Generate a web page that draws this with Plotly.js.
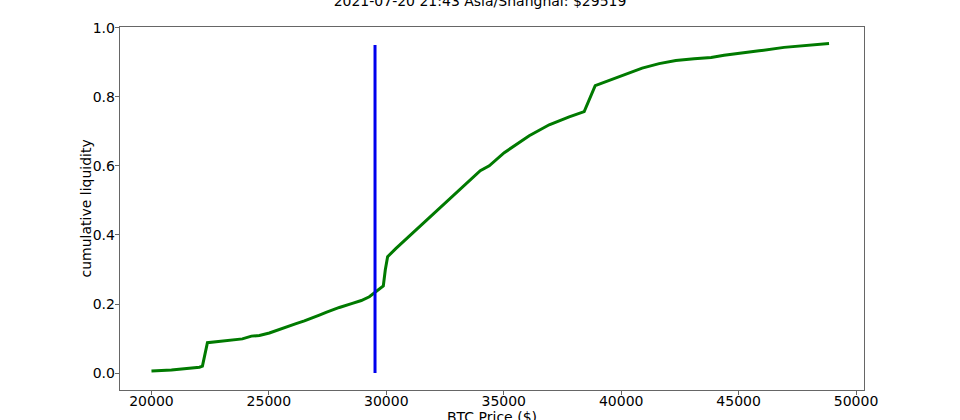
<!DOCTYPE html>
<html><head><meta charset="utf-8">
<script src="https://cdn.plot.ly/plotly-3.0.1.min.js"></script>
<style>html,body{margin:0;padding:0;background:#fff}#chart{width:960px;height:420px}</style>
</head><body><div id="chart"></div>
<script>
const titleText = "2021-07-20 21:43 Asia/Shanghai: $29519";
const xTitle = "BTC Price ($)";
const yTitle = "cumulative liquidity";
const currentPrice = 29519;
const priceLevels = [20000,20851,22043,22170,22383,23319,23872,24255,24596,25021,25574,26157,26511,26851,27149,27434,27702,28000,28553,28936,29277,29489,29702,29872,29957,30055,30413,31404,32681,33532,34000,34383,35021,36085,36936,37787,38426,38894,39489,40200,40894,41617,42328,43106,43830,44383,45021,45872,46936,47574,48213,48851];
const cumLiquidity = [0.006,0.009,0.017,0.020,0.088,0.094,0.099,0.107,0.109,0.116,0.130,0.143,0.151,0.159,0.168,0.176,0.183,0.190,0.202,0.210,0.221,0.232,0.242,0.252,0.299,0.337,0.361,0.423,0.501,0.557,0.586,0.600,0.638,0.687,0.719,0.742,0.757,0.832,0.847,0.867,0.883,0.896,0.905,0.910,0.914,0.920,0.925,0.933,0.943,0.946,0.951,0.954];
const markerY = [0, 0.95];
const xTicks = [20000,25000,30000,35000,40000,45000,50000];
const yTicks = [0,0.2,0.4,0.6,0.8,1.0];

const font = {family:"DejaVu Sans", size:14, color:"#000"};
const data = [
  {x: priceLevels, y: cumLiquidity, type:"scatter", mode:"lines", line:{color:"#007a00", width:3}, hoverinfo:"skip"},
  {x: [currentPrice, currentPrice], y: markerY, type:"scatter", mode:"lines", line:{color:"#0000ee", width:3}, hoverinfo:"skip"}
];
const axisCommon = {showline:true, mirror:true, linecolor:"#666", linewidth:1.3, ticks:"outside", ticklen:4, tickcolor:"#666", showgrid:false, zeroline:false, tickfont:font};
const layout = {
  width:960, height:420,
  margin:{l:120, r:96, t:27, b:30},
  paper_bgcolor:"#fff", plot_bgcolor:"#fff",
  showlegend:false,
  font: font,
  title:{text:titleText, font:{family:"DejaVu Sans", size:14, color:"#000"}, x:0.5, xref:"container", y:0.986, yref:"container", yanchor:"bottom"},
  xaxis: Object.assign({}, axisCommon, {range:[18660, 50340], tickvals:xTicks, ticktext:xTicks.map(String), ticklabelstandoff:-6}),
  yaxis: Object.assign({}, axisCommon, {range:[-0.049, 1.002], tickvals:yTicks, ticktext:yTicks.map(v=>v.toFixed(1)), ticklabelstandoff:-3}),
  annotations:[
    {text:xTitle, xref:"paper", yref:"paper", x:0.5, y:-0.075, xanchor:"center", yanchor:"middle", showarrow:false, font:font},
    {text:yTitle, xref:"paper", yref:"paper", x:-0.047, y:0.5, xanchor:"center", yanchor:"middle", textangle:-90, showarrow:false, font:font}
  ]
};
Plotly.newPlot("chart", data, layout, {staticPlot:true, displayModeBar:false});
</script></body></html>
